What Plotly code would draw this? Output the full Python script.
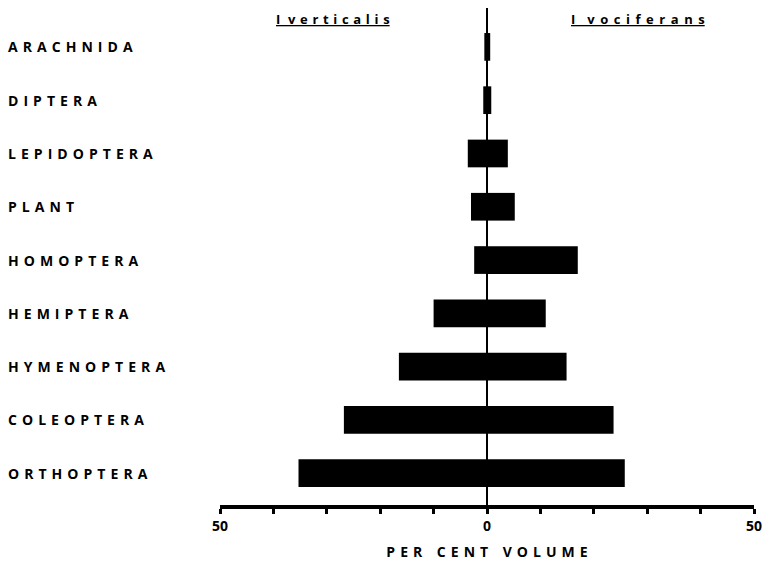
import plotly.graph_objects as go

categories = ["ARACHNIDA", "DIPTERA", "LEPIDOPTERA", "PLANT", "HOMOPTERA",
              "HEMIPTERA", "HYMENOPTERA", "COLEOPTERA", "ORTHOPTERA"]
verticalis = [0.5, 0.7, 3.6, 3.0, 2.4, 10.0, 16.5, 26.8, 35.3]
vociferans = [0.6, 0.8, 3.9, 5.2, 17.0, 11.0, 14.9, 23.7, 25.8]
tick_vals = [-50, -40, -30, -20, -10, 0, 10, 20, 30, 40, 50]
tick_text = ["50", "", "", "", "", "0", "", "", "", "", "50"]
species = ["I verticalis", "I vociferans"]
axis_title = "PER CENT VOLUME"


def spaced(s, sep=" \u200a"):
    return sep.join(list(s))


FONT = "Open Sans"
cat_order = list(reversed(categories))

fig = go.Figure()
fig.add_trace(go.Bar(y=categories, x=[-v for v in verticalis], orientation="h",
                     marker=dict(color="black", line=dict(width=0)), width=0.52,
                     name=species[0], showlegend=False))
fig.add_trace(go.Bar(y=categories, x=vociferans, orientation="h",
                     marker=dict(color="black", line=dict(width=0)), width=0.52,
                     name=species[1], showlegend=False))

annotations = []
for c in categories:
    annotations.append(dict(text="<b>" + spaced(c) + "</b>", x=-0.401, xref="paper",
                            y=c, yref="y", xanchor="left", yanchor="middle",
                            showarrow=False, font=dict(family=FONT, size=14, color="black")))


def header(s, gap, sep):
    first, rest = s.split(" ", 1)
    return "<b><u>" + first + gap + spaced(rest, sep) + "</u></b>"


annotations.append(dict(text=header(species[0], " \u2009\u2009", " \u200a"), x=-28.9, xref="x",
                        y=0.978, yref="paper", yanchor="middle",
                        showarrow=False, font=dict(family=FONT, size=13, color="black")))
annotations.append(dict(text=header(species[1], " \u2009\u2009\u2009\u2009", " \u2009"), x=28.2, xref="x",
                        y=0.978, yref="paper", yanchor="middle",
                        showarrow=False, font=dict(family=FONT, size=13, color="black")))

fig.update_layout(
    width=770, height=567,
    margin=dict(l=220, r=15, t=8, b=59),
    plot_bgcolor="white", paper_bgcolor="white",
    barmode="relative", bargap=0.48,
    annotations=annotations,
    xaxis=dict(range=[-50, 50], tickvals=tick_vals, ticktext=tick_text,
               showgrid=False, zeroline=True, zerolinecolor="black", zerolinewidth=1.5,
               showline=True, linecolor="black", linewidth=4,
               ticks="outside", ticklen=5, tickwidth=2.5, tickcolor="black",
               tickfont=dict(family=FONT, size=14, color="black", weight="bold"),
               title=dict(text="<b>" + "    ".join(spaced(w) for w in axis_title.split()) + "</b>",
                          font=dict(family=FONT, size=14, color="black"), standoff=14)),
    yaxis=dict(type="category", categoryorder="array", categoryarray=cat_order,
               range=[-0.597, 8.73], showticklabels=False, showgrid=False,
               zeroline=False, showline=False, ticks=""),
)

fig.write_html("out.html")
